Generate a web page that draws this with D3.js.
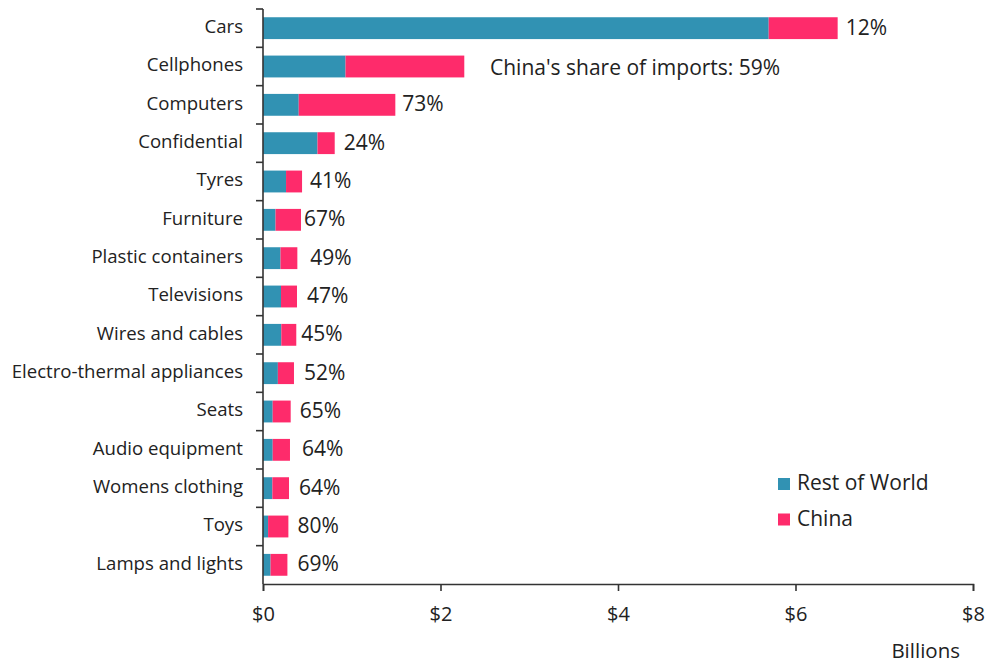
<!DOCTYPE html>
<html>
<head>
<meta charset="utf-8">
<script src="https://cdn.jsdelivr.net/npm/d3@7/dist/d3.min.js"></script>
<style>
  html, body { margin: 0; padding: 0; background: #fff; }
  svg text { font-family: "Open Sans", "Noto Sans", sans-serif; fill: #222; }
</style>
</head>
<body>
<svg id="chart" width="985" height="664"></svg>
<script>
// Imports by product, in billions of dollars, with China's share of each total
const categories = ["Cars", "Cellphones", "Computers", "Confidential", "Tyres", "Furniture",
  "Plastic containers", "Televisions", "Wires and cables", "Electro-thermal appliances",
  "Seats", "Audio equipment", "Womens clothing", "Toys", "Lamps and lights"];
const totals = [6.475, 2.268, 1.491, 0.808, 0.44, 0.428, 0.387, 0.383, 0.375, 0.349,
  0.312, 0.304, 0.293, 0.286, 0.275];
const chinaShare = [12, 59, 73, 24, 41, 67, 49, 47, 45, 52, 65, 64, 64, 80, 69];
const seriesNames = ["Rest of World", "China"];
const xTicks = [0, 2, 4, 6, 8];
const annotation = "China's share of imports: 59%";

// small horizontal nudges so the share labels don't sit in a rigid column
const labelNudge = [-1, 0, -2, 0, -1, -6, 4, 1, -4, 1, 0, 3, 1, 0, 1];

const colors = { "Rest of World": "#3192b3", "China": "#fe2b6b" };

const rows = categories.map((c, i) => {
  const china = totals[i] * chinaShare[i] / 100;
  return { category: c, "Rest of World": totals[i] - china, "China": china, share: chinaShare[i], i };
});

const svg = d3.select("#chart");
const plotLeft = 263, plotRight = 973, plotTop = 9, plotBottom = 584;

const x = d3.scaleLinear().domain([0, 8]).range([plotLeft, plotRight]);
const y = d3.scaleBand().domain(categories).range([plotTop, plotBottom]).paddingInner(0.43).paddingOuter(0.215);

const stack = d3.stack().keys(seriesNames)(rows);

// stacked bars
svg.append("g").selectAll("g").data(stack).join("g")
  .attr("fill", d => colors[d.key])
  .selectAll("rect").data(d => d).join("rect")
  .attr("x", d => x(d[0]))
  .attr("y", d => y(d.data.category))
  .attr("width", d => x(d[1]) - x(d[0]))
  .attr("height", y.bandwidth());

// share labels at bar ends
svg.append("g").selectAll("text")
  .data(rows.filter(r => r.category !== "Cellphones")).join("text")
  .attr("x", d => x(d["Rest of World"] + d["China"]) + 9 + labelNudge[d.i])
  .attr("y", d => y(d.category) + y.bandwidth() / 2 + 1)
  .attr("dominant-baseline", "middle")
  .attr("font-size", 21)
  .text(d => d.share + "%");

// annotation beside the cellphones bar
svg.append("text")
  .attr("x", 490)
  .attr("y", y("Cellphones") + y.bandwidth() / 2 + 3)
  .attr("dominant-baseline", "middle")
  .attr("font-size", 21)
  .text(annotation);

// y axis: line with ticks at band boundaries
const yAxisG = svg.append("g");
yAxisG.append("line")
  .attr("x1", plotLeft).attr("x2", plotLeft).attr("y1", plotTop).attr("y2", plotBottom)
  .attr("stroke", "#333").attr("stroke-width", 1.6);
const boundaries = d3.range(categories.length).map(i => y(categories[i]) - y.step() * y.paddingInner() / 2);
yAxisG.selectAll("line.tick").data(boundaries).join("line")
  .attr("class", "tick")
  .attr("x1", plotLeft - 7).attr("x2", plotLeft)
  .attr("y1", d => d).attr("y2", d => d)
  .attr("stroke", "#333").attr("stroke-width", 1.6);
yAxisG.selectAll("text").data(categories).join("text")
  .attr("x", 243)
  .attr("y", d => y(d) + y.bandwidth() / 2)
  .attr("dominant-baseline", "middle")
  .attr("text-anchor", "end")
  .attr("font-size", 18.6)
  .text(d => d);

// x axis
const xAxis = d3.axisBottom(x).tickValues(xTicks).tickFormat(d => "$" + d).tickSize(7).tickPadding(16);
const xg = svg.append("g").attr("transform", `translate(0,${plotBottom})`).call(xAxis);
xg.select(".domain").attr("stroke", "#333").attr("stroke-width", 1.6);
xg.selectAll(".tick line").attr("stroke", "#333").attr("stroke-width", 1.6);
xg.selectAll(".tick text")
  .attr("font-size", 20)
  .attr("font-family", "'Open Sans', 'Noto Sans', sans-serif")
  .attr("fill", "#222");

svg.append("text")
  .attr("x", 960).attr("y", 658)
  .attr("text-anchor", "end")
  .attr("font-size", 20.5)
  .text("Billions");

// legend
const legend = svg.append("g");
seriesNames.forEach((s, i) => {
  const gy = 478 + i * 35.5;
  legend.append("rect")
    .attr("x", 778).attr("y", gy)
    .attr("width", 12).attr("height", 12)
    .attr("fill", colors[s]);
  legend.append("text")
    .attr("x", 797).attr("y", gy + 6.5)
    .attr("dominant-baseline", "middle")
    .attr("font-size", 21)
    .text(s);
});
</script>
</body>
</html>
